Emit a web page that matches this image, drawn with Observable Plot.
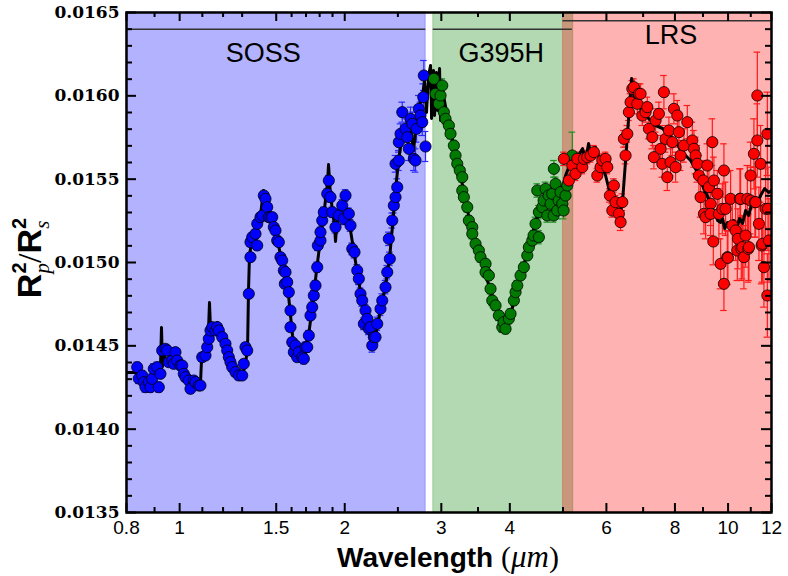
<!DOCTYPE html>
<html><head><meta charset="utf-8">
<script src="https://cdn.jsdelivr.net/npm/d3@7"></script>
<script src="https://cdn.jsdelivr.net/npm/@observablehq/plot@0.6"></script>
<style>body{margin:0;background:#fff} #chart{width:788px;height:576px}</style>
</head><body><div id="chart"></div>
<script>
// ---------- axes ----------
const xDomain = [0.8, 12];
const yDomain = [0.0135, 0.0165];
const xMajor = [0.8, 1, 1.5, 2, 3, 4, 6, 8, 10, 12];
const xMajorLabels = ["0.8", "1", "1.5", "2", "3", "4", "6", "8", "10", "12"];
const xMinor = [0.9, 1.1, 1.2, 1.3, 1.6, 1.7, 1.8, 1.9, 2.5, 3.5, 5, 7, 9, 11];
const yMajor = [0.0135, 0.0140, 0.0145, 0.0150, 0.0155, 0.0160, 0.0165];
const yMinor = [0.0136, 0.0137, 0.0138, 0.0139, 0.0141, 0.0142, 0.0143, 0.0144,
  0.0146, 0.0147, 0.0148, 0.0149, 0.0151, 0.0152, 0.0153, 0.0154,
  0.0156, 0.0157, 0.0158, 0.0159, 0.0161, 0.0162, 0.0163, 0.0164];

// ---------- instrument regions ----------
const regionNames = ["SOSS", "G395H", "LRS"];
const regionStart = [0.8, 2.9, 5.0];
const regionEnd = [2.81, 5.22, 12];
const regionColors = ["#0000ff", "#008000", "#ff0000"];
const labelX = [1.42, 3.86, 7.87];
const labelY = [0.016254, 0.016254, 0.016362];
const barStart = [0.8, 2.9, 5.0];
const barEnd = [2.81, 5.2, 12];
const barY = [0.0164, 0.0164, 0.01645];

// ---------- data: [wavelength (um), Rp^2/Rs^2, error] ----------
const sossPoints = [
[0.8368,0.014372,0.000030],[0.8424,0.014304,0.000030],[0.8545,0.014322,0.000030],[0.8602,0.014282,0.000030],
[0.8663,0.014252,0.000030],[0.8785,0.014282,0.000030],[0.8847,0.014252,0.000030],[0.8911,0.014302,0.000030],
[0.8971,0.014362,0.000030],[0.9101,0.014372,0.000030],[0.9162,0.014252,0.000030],[0.9226,0.014332,0.000025],
[0.9293,0.014472,0.000025],[0.9422,0.014482,0.000025],[0.9491,0.014472,0.000025],[0.9554,0.014402,0.000025],
[0.9692,0.014412,0.000025],[0.9757,0.014392,0.000025],[0.9826,0.014462,0.000025],[0.9898,0.014412,0.000025],
[1.0035,0.014382,0.000025],[1.0108,0.014382,0.000025],[1.0175,0.014332,0.000025],[1.0247,0.014312,0.000025],
[1.0391,0.014292,0.000025],[1.0465,0.014242,0.000025],[1.0612,0.014292,0.000025],[1.0687,0.014282,0.000025],
[1.0837,0.014262,0.000025],[1.0913,0.014262,0.000025],[1.0993,0.014432,0.000025],[1.1145,0.014442,0.000025],
[1.1227,0.014492,0.000025],[1.1302,0.014542,0.000025],[1.1382,0.014592,0.000025],[1.1465,0.014612,0.000025],
[1.1623,0.014592,0.000025],[1.1708,0.014612,0.000025],[1.1787,0.014592,0.000025],[1.1957,0.014552,0.000025],
[1.2122,0.014512,0.000025],[1.2211,0.014472,0.000025],[1.2293,0.014432,0.000025],[1.2380,0.014402,0.000025],
[1.2470,0.014372,0.000025],[1.2642,0.014342,0.000025],[1.2820,0.014322,0.000025],[1.3004,0.014322,0.000025],
[1.3091,0.014392,0.000025],[1.3184,0.014492,0.000025],[1.3280,0.014472,0.000025],[1.3369,0.014812,0.000025],
[1.3463,0.015032,0.000025],[1.3463,0.015122,0.000025],[1.3562,0.015152,0.000025],[1.3749,0.015172,0.000025],
[1.3850,0.015102,0.000025],[1.3850,0.015232,0.000025],[1.4041,0.015272,0.000025],[1.4161,0.015282,0.000025],
[1.4238,0.015402,0.000025],[1.4339,0.015382,0.000025],[1.4443,0.015332,0.000025],[1.4540,0.015272,0.000025],
[1.4643,0.015270,0.000025],[1.4750,0.015272,0.000025],[1.4849,0.015212,0.000025],[1.4954,0.015192,0.000025],
[1.5063,0.015132,0.000025],[1.5164,0.015122,0.000025],[1.5271,0.015032,0.000025],[1.5383,0.015012,0.000025],
[1.5486,0.014952,0.000025],[1.5551,0.014872,0.000025],[1.5596,0.014942,0.000025],[1.5709,0.014882,0.000025],
[1.5814,0.014822,0.000025],[1.5926,0.014712,0.000025],[1.5926,0.014612,0.000025],[1.6043,0.014522,0.000025],
[1.6151,0.014462,0.000025],[1.6265,0.014502,0.000025],[1.6383,0.014432,0.000025],[1.6493,0.014462,0.000025],
[1.6731,0.014432,0.000025],[1.6843,0.014422,0.000030],[1.6962,0.014492,0.000030],[1.7086,0.014492,0.000030],
[1.7201,0.014562,0.000030],[1.7322,0.014682,0.000030],[1.7448,0.014732,0.000030],[1.7565,0.014802,0.000030],
[1.7689,0.014862,0.000030],[1.7818,0.014972,0.000030],[1.7864,0.015102,0.000030],[1.8064,0.015132,0.000030],
[1.8064,0.015182,0.000030],[1.8196,0.015252,0.000030],[1.8318,0.015302,0.000030],[1.8582,0.015412,0.000030],
[1.8707,0.015492,0.000030],[1.8839,0.015392,0.000030],[1.8977,0.015302,0.000030],[1.9239,0.015212,0.000035],
[1.9510,0.015282,0.000035],[1.9791,0.015342,0.000035],[1.9924,0.015262,0.000035],[2.0065,0.015402,0.000035],
[2.0347,0.015292,0.000035],[2.0491,0.015222,0.000035],[2.0640,0.015082,0.000035],[2.0838,0.015062,0.000035],
[2.1078,0.014952,0.000035],[2.1219,0.014902,0.000035],[2.1369,0.014812,0.000035],[2.1525,0.014772,0.000035],
[2.1669,0.014632,0.000035],[2.1823,0.014712,0.000035],[2.1981,0.014662,0.000035],[2.2129,0.014602,0.000035],
[2.2285,0.014612,0.000035],[2.2448,0.014502,0.000040],[2.2598,0.014552,0.000040],[2.2758,0.014552,0.000040],
[2.2924,0.014632,0.000040],[2.3241,0.014722,0.000040],[2.3412,0.014772,0.000040],[2.3735,0.014852,0.000040],
[2.3908,0.014942,0.000040],[2.4168,0.015022,0.000040],[2.4068,0.015142,0.000040],[2.4416,0.015252,0.000045],
[2.4579,0.015342,0.000045],[2.4753,0.015392,0.000045],[2.4933,0.015452,0.000050],[2.4753,0.015592,0.000050],
[2.5100,0.015612,0.000060],[2.5100,0.015722,0.000060],[2.5278,0.015772,0.000060],[2.5463,0.015902,0.000060],
[2.5815,0.015802,0.000060],[2.6002,0.015752,0.000070],[2.6176,0.015682,0.000070],[2.6362,0.015862,0.000070],
[2.6555,0.015832,0.000070],[2.6733,0.015622,0.000070],[2.6922,0.015612,0.000070],[2.7038,0.015802,0.000080],
[2.7299,0.015922,0.000080],[2.7492,0.015882,0.000080],[2.7693,0.015842,0.000080],[2.7809,0.015992,0.000080],
[2.7879,0.016122,0.000090],[2.8076,0.015696,0.000090]
];

const g395Points = [
[2.9074,0.016102,0.00004],[2.9280,0.016012,0.00004],[2.9692,0.015952,0.00004],[2.9902,0.016002,0.00004],
[3.0120,0.016062,0.00004],[3.0322,0.015902,0.00003],[3.0537,0.015862,0.00003],[3.0965,0.015822,0.00003],
[3.1184,0.015772,0.00003],[3.1623,0.015702,0.00003],[3.1846,0.015642,0.00003],[3.2078,0.015592,0.00003],
[3.2427,0.015552,0.00003],[3.2759,0.015512,0.00003],[3.2759,0.015432,0.00003],[3.2979,0.015392,0.00003],
[3.3454,0.015332,0.00003],[3.3678,0.015252,0.00003],[3.4164,0.015212,0.00003],[3.4164,0.015172,0.00003],
[3.4636,0.015112,0.00003],[3.5123,0.015072,0.00003],[3.5371,0.015032,0.00003],[3.6122,0.014992,0.00003],
[3.6122,0.014942,0.00003],[3.6629,0.014922,0.00003],[3.6888,0.014842,0.00003],[3.7158,0.014772,0.00003],
[3.7671,0.014742,0.00003],[3.8200,0.014682,0.00003],[3.8752,0.014612,0.00003],[3.8963,0.014642,0.00003],
[3.9287,0.014602,0.00003],[3.9838,0.014662,0.00003],[4.0120,0.014692,0.00003],[4.0684,0.014772,0.00003],
[4.0972,0.014822,0.00003],[4.1271,0.014862,0.00003],[4.1841,0.014922,0.00003],[4.2429,0.014972,0.00003],
[4.3041,0.015042,0.00003],[4.3330,0.015092,0.00003],[4.3954,0.015132,0.00003],[4.4193,0.015162,0.00003],
[4.4561,0.015232,0.00004],[4.4887,0.015432,0.00004],[4.5187,0.015302,0.00004],[4.5187,0.015152,0.00004],
[4.5839,0.015332,0.00004],[4.6089,0.015372,0.00004],[4.6473,0.015442,0.00004],[4.6812,0.015282,0.00004],
[4.7067,0.015402,0.00004],[4.7459,0.015352,0.00004],[4.7805,0.015412,0.00004],[4.8065,0.015282,0.00004],
[4.8125,0.015562,0.00005],[4.8466,0.015472,0.00004],[4.8820,0.015312,0.00005],[4.9086,0.015372,0.00004],
[4.9495,0.015422,0.00004],[4.9856,0.015352,0.00004],[5.0128,0.015312,0.00005],[5.0545,0.015402,0.00005],
[5.0914,0.015462,0.00005],[5.1994,0.015642,0.00014]
];

const lrsPoints = [
[5.0190,0.015622,0.00004],[5.1255,0.015492,0.00004],[5.1994,0.015582,0.00004],[5.2713,0.015532,0.00004],
[5.3098,0.015622,0.00004],[5.4224,0.015572,0.00004],[5.4587,0.015622,0.00004],[5.5375,0.015632,0.00004],
[5.6141,0.015642,0.00004],[5.6929,0.015662,0.00004],[5.7750,0.015522,0.00004],[5.8548,0.015572,0.00004],
[5.8975,0.015612,0.00004],[5.9790,0.015622,0.00004],[6.0227,0.015572,0.00004],[6.0882,0.015402,0.00004],
[6.1504,0.015312,0.00004],[6.1916,0.015462,0.00004],[6.2354,0.015362,0.00004],[6.3231,0.015292,0.00004],
[6.3678,0.015242,0.00005],[6.4143,0.015362,0.00005],[6.4573,0.015742,0.00005],[6.5029,0.015642,0.00005],
[6.5504,0.015772,0.00005],[6.5943,0.015902,0.00005],[6.6409,0.015962,0.00005],[6.6894,0.016042,0.00005],
[6.7342,0.016052,0.00005],[6.8313,0.015952,0.00006],[6.8771,0.016012,0.00006],[6.9257,0.016012,0.00006],
[6.9762,0.015882,0.00006],[7.0727,0.015902,0.00006],[7.1243,0.015932,0.00006],[7.1720,0.015802,0.00006],
[7.2755,0.015752,0.00007],[7.3243,0.015632,0.00007],[7.3761,0.015852,0.00007],[7.4797,0.015892,0.00007],
[7.5326,0.015682,0.00008],[7.5875,0.015592,0.00008],[7.6384,0.016022,0.00010],[7.6924,0.015742,0.00008],
[7.7485,0.015512,0.00008],[7.8004,0.015792,0.00008],[7.8556,0.015602,0.00008],[7.9130,0.015722,0.00008],
[7.9660,0.015922,0.00009],[8.0223,0.015572,0.00009],[8.0809,0.015882,0.00009],[8.1350,0.015782,0.00009],
[8.1926,0.015642,0.00009],[8.3077,0.015702,0.00010],[8.4275,0.015842,0.00010],[8.6063,0.015732,0.00011],
[8.6640,0.015682,0.00011],[8.7253,0.015642,0.00011],[8.7890,0.015592,0.00011],[8.8479,0.015522,0.00012],
[8.9104,0.015392,0.00012],[9.0130,0.015492,0.00012],[9.0355,0.015292,0.00012],[9.0994,0.015272,0.00013],
[9.1659,0.015582,0.00013],[9.2273,0.015452,0.00013],[9.2925,0.015352,0.00013],[9.2925,0.015292,0.00013],
[9.3604,0.015722,0.00014],[9.3993,0.015126,0.00014],[9.4232,0.015492,0.00014],[9.5590,0.015412,0.00014],
[9.6231,0.015292,0.00015],[9.6911,0.014992,0.00015],[9.7619,0.015322,0.00015],[9.8273,0.015552,0.00016],
[9.8273,0.014872,0.00016],[9.8968,0.015322,0.00016],[9.9690,0.015032,0.00016],[9.9945,0.015028,0.00016],
[10.107,0.015382,0.00017],[10.181,0.015222,0.00017],[10.322,0.015192,0.00018],[10.396,0.015072,0.00018],
[10.423,0.015142,0.00018],[10.510,0.015382,0.00018],[10.540,0.015382,0.00018],[10.570,0.015082,0.00019],
[10.617,0.015092,0.00019],[10.688,0.015032,0.00019],[10.764,0.015162,0.00019],[10.843,0.015382,0.00020],
[10.888,0.015082,0.00020],[10.915,0.015092,0.00020],[10.993,0.015522,0.00020],[10.993,0.015372,0.00020],
[11.147,0.015652,0.00021],[11.193,0.015362,0.00021],[11.225,0.015362,0.00021],[11.307,0.016002,0.00026],
[11.307,0.015732,0.00022],[11.383,0.015232,0.00022],[11.463,0.015592,0.00023],[11.514,0.015102,0.00023],
[11.548,0.015112,0.00023],[11.625,0.014972,0.00024],[11.707,0.015322,0.00024],[11.793,0.014802,0.00025],
[11.793,0.015772,0.00025],[11.823,0.015322,0.00025],[11.872,0.015132,0.00025]
];

// ---------- model spectrum: [wavelength, Rp^2/Rs^2] ----------
const modelCurve = [
[0.8000,0.014340],[0.8308,0.014340],[0.8663,0.014274],[0.9034,0.014340],[0.9226,0.014364],[0.9266,0.014610],
[0.9305,0.014376],[0.9422,0.014460],[0.9826,0.014412],[1.0247,0.014328],[1.0687,0.014280],[1.0913,0.014274],
[1.0961,0.014412],[1.1145,0.014472],[1.1288,0.014592],[1.1335,0.014760],[1.1382,0.014604],[1.1723,0.014640],
[1.2122,0.014502],[1.2642,0.014352],[1.2910,0.014322],[1.3129,0.014364],[1.3297,0.014472],[1.3352,0.014832],
[1.3408,0.015042],[1.3579,0.015162],[1.3809,0.015204],[1.4041,0.015282],[1.4220,0.015432],[1.4522,0.015300],
[1.4769,0.015252],[1.5019,0.015156],[1.5271,0.015048],[1.5531,0.014922],[1.5795,0.014802],[1.6063,0.014562],
[1.6335,0.014460],[1.6612,0.014436],[1.6892,0.014448],[1.7179,0.014562],[1.7470,0.014742],[1.7766,0.014952],
[1.8064,0.015144],[1.8372,0.015324],[1.8606,0.015480],[1.8684,0.015588],[1.8839,0.015402],[1.9159,0.015222],
[1.9239,0.015126],[1.9404,0.015282],[1.9733,0.015324],[1.9982,0.015342],[2.0237,0.015282],[2.0491,0.015192],
[2.0838,0.015042],[2.1193,0.014892],[2.1552,0.014754],[2.1917,0.014640],[2.2285,0.014544],[2.2476,0.014502],
[2.2758,0.014562],[2.3241,0.014712],[2.3735,0.014862],[2.4138,0.015024],[2.4446,0.015222],[2.4753,0.015432],
[2.5069,0.015612],[2.5388,0.015732],[2.5815,0.015792],[2.6362,0.015804],[2.6699,0.015672],[2.7038,0.015852],
[2.7379,0.015942],[2.7728,0.016002],[2.7960,0.016092],[2.8198,0.015900],[2.8435,0.016122],[2.8675,0.016182],
[2.8796,0.015864],[2.9038,0.016152],[2.9159,0.015882],[2.9408,0.016140],[2.9532,0.015912],[2.9779,0.016164],
[2.9902,0.015852],[3.0158,0.016032],[3.0927,0.015840],[3.1846,0.015660],[3.2800,0.015462],[3.3916,0.015222],
[3.5371,0.015024],[3.6888,0.014832],[3.8471,0.014652],[3.9287,0.014604],[4.0120,0.014688],[4.1841,0.014910],
[4.3636,0.015132],[4.5507,0.015342],[4.7459,0.015372],[4.9495,0.015402],[5.0545,0.015522],[5.1623,0.015600],
[5.2942,0.015624],[5.4292,0.015684],[5.4981,0.015612],[5.5677,0.015714],[5.6384,0.015624],[5.7331,0.015690],
[5.8548,0.015600],[5.9790,0.015522],[6.1059,0.015402],[6.2354,0.015312],[6.3415,0.015282],[6.4224,0.015372],
[6.5029,0.015612],[6.5861,0.015864],[6.6698,0.016104],[6.7538,0.015972],[6.9257,0.015924],[7.1631,0.015864],
[7.3761,0.015822],[7.5971,0.015804],[7.7907,0.015762],[8.0223,0.015732],[8.1926,0.015672],[8.5440,0.015612],
[8.8000,0.015540],[9.0243,0.015444],[9.2158,0.015384],[9.4114,0.015312],[9.5710,0.015252],[9.6911,0.015240],
[9.7742,0.015264],[9.8559,0.015204],[9.9815,0.015240],[10.107,0.015198],[10.236,0.015252],[10.366,0.015204],
[10.497,0.015264],[10.631,0.015234],[10.764,0.015312],[10.902,0.015282],[11.086,0.015372],[11.274,0.015342],
[11.463,0.015402],[11.659,0.015444],[11.857,0.015420],[12.0,0.015432]
];

// ---------- build ----------
const W = 788, H = 576, mL = 126, mR = 17, mT = 12, mB = 64;
const iw = W - mL - mR, ih = H - mT - mB;
const capF = 1.014;
const sans = "'Liberation Sans', Arial, Helvetica, sans-serif";
const serif = "'Liberation Serif', 'Times New Roman', serif";

const regions = regionNames.map((name, i) => ({
  name, x1: regionStart[i], x2: regionEnd[i], color: regionColors[i],
  lx: labelX[i], ly: labelY[i], bx1: barStart[i], bx2: barEnd[i], by: barY[i]
}));
const rowsOf = arr => arr.map(([w, v, e]) => ({w, v, e}));
const series = [
  {rows: rowsOf(sossPoints), color: "#0000ff", bar: "#2a2aff"},
  {rows: rowsOf(g395Points), color: "#007a00", bar: "#1f8f1f"},
  {rows: rowsOf(lrsPoints), color: "#ff0000", bar: "#ff1a1a"}
];
const model = modelCurve.map(([w, v]) => ({w, v}));
const xTicks = xMajor.map((v, i) => ({v, label: xMajorLabels[i]}));

const marks = [];
regions.forEach(r => {
  marks.push(Plot.rect([r], {x1: "x1", x2: "x2", y1: () => yDomain[0], y2: () => yDomain[1],
    fill: r.color, fillOpacity: 0.3, stroke: r.color, strokeOpacity: 0.25, strokeWidth: 1}));
});
marks.push(Plot.ruleY(regions, {x1: "bx1", x2: "bx2", y: "by", stroke: "#333", strokeWidth: 1.5}));
marks.push(Plot.text(regions, {x: "lx", y: "ly", text: "name", fontSize: 27, fontFamily: sans, fill: "black"}));

series.forEach(s => {
  marks.push(Plot.ruleX(s.rows, {x: "w", y1: d => d.v - d.e, y2: d => d.v + d.e, stroke: s.bar, strokeWidth: 1.2, clip: true}));
  marks.push(Plot.ruleY(s.rows, {x1: d => d.w / capF, x2: d => d.w * capF, y: d => d.v + d.e, stroke: s.bar, strokeWidth: 1.2, clip: true}));
  marks.push(Plot.ruleY(s.rows, {x1: d => d.w / capF, x2: d => d.w * capF, y: d => d.v - d.e, stroke: s.bar, strokeWidth: 1.2, clip: true}));
});
marks.push(Plot.line(model, {x: "w", y: "v", stroke: "black", strokeWidth: 3, strokeLinejoin: "round", clip: true}));
series.forEach(s => {
  marks.push(Plot.dot(s.rows, {x: "w", y: "v", r: 5.6, fill: s.color, stroke: "black", strokeWidth: 0.8, clip: true}));
});

// inward ticks on all four sides
const tk = {stroke: "black", strokeWidth: 2};
marks.push(Plot.tickX(xMajor, {x: d => d, insetTop: ih - 9, ...tk}));
marks.push(Plot.tickX(xMinor, {x: d => d, insetTop: ih - 5, ...tk}));
marks.push(Plot.tickX(xMajor, {x: d => d, insetBottom: ih - 9, ...tk}));
marks.push(Plot.tickX(xMinor, {x: d => d, insetBottom: ih - 5, ...tk}));
marks.push(Plot.tickY(yMajor, {y: d => d, insetRight: iw - 10, ...tk}));
marks.push(Plot.tickY(yMinor, {y: d => d, insetRight: iw - 6, ...tk}));
marks.push(Plot.tickY(yMajor, {y: d => d, insetLeft: iw - 10, ...tk}));
marks.push(Plot.tickY(yMinor, {y: d => d, insetLeft: iw - 6, ...tk}));
marks.push(Plot.frame({stroke: "black", strokeWidth: 2.5}));

// x tick labels
marks.push(Plot.text(xTicks, {x: "v", text: "label", frameAnchor: "bottom", lineAnchor: "top", dy: 8,
  fontSize: 19, fontFamily: sans, fill: "black"}));
marks.push(Plot.axisY(yMajor, {tickSize: 0, tickPadding: 7, fontSize: 17, fontFamily: "'DejaVu Serif', serif",
  fontWeight: "bold", tickFormat: d => d.toFixed(4), label: null}));

const chart = Plot.plot({
  width: W, height: H, marginLeft: mL, marginRight: mR, marginTop: mT, marginBottom: mB,
  x: {type: "log", domain: xDomain, axis: null},
  y: {domain: yDomain},
  style: {background: "white", overflow: "visible", color: "black"},
  marks
});
document.getElementById("chart").appendChild(chart);

// axis titles with mixed styles
const svg = d3.select(chart);
const xt = svg.append("text").attr("x", 448).attr("y", 567).attr("text-anchor", "middle")
  .attr("font-family", sans).attr("font-size", 28).attr("font-weight", "bold").attr("fill", "black");
xt.append("tspan").text("Wavelength ");
xt.append("tspan").attr("font-family", serif).attr("font-weight", "normal").attr("font-size", 30).text("(");
xt.append("tspan").attr("font-family", serif).attr("font-weight", "normal").attr("font-style", "italic").attr("font-size", 31).text("μm");
xt.append("tspan").attr("font-family", serif).attr("font-weight", "normal").attr("font-size", 30).text(")");

const yt = svg.append("text").attr("transform", "translate(41,258) rotate(-90)").attr("text-anchor", "middle")
  .attr("font-family", sans).attr("font-size", 34).attr("font-weight", "bold").attr("fill", "black");
yt.append("tspan").text("R");
yt.append("tspan").attr("font-size", 20).attr("dy", -15).text("2");
yt.append("tspan").attr("font-size", 21).attr("font-family", serif).attr("font-style", "italic").attr("font-weight", "normal").attr("dx", -11).attr("dy", 23).text("p");
yt.append("tspan").attr("font-family", serif).attr("font-weight", "normal").attr("font-size", 34).attr("dy", -8).text("/");
yt.append("tspan").text("R");
yt.append("tspan").attr("font-size", 20).attr("dy", -15).text("2");
yt.append("tspan").attr("font-size", 21).attr("font-family", serif).attr("font-style", "italic").attr("font-weight", "normal").attr("dx", -11).attr("dy", 23).text("s");
</script></body></html>
